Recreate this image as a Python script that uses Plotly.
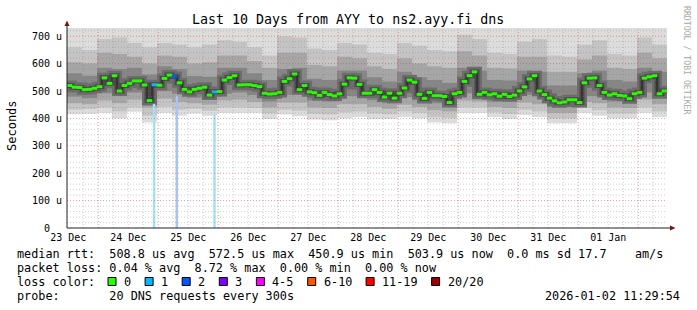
import plotly.graph_objects as go
from datetime import datetime, timedelta

# ---------------- data ----------------
chart_title = "Last 10 Days from AYY to ns2.ayy.fi dns"
t_start = datetime(2025, 12, 23, 11, 29, 54)
t_end = datetime(2026, 1, 2, 11, 29, 54)

day_labels = ["23 Dec", "24 Dec", "25 Dec", "26 Dec", "27 Dec",
              "28 Dec", "29 Dec", "30 Dec", "31 Dec", "01 Jan"]
day_label_times = [datetime(2025, 12, 23, 12, 0) + timedelta(days=k) for k in range(10)]

y_tick_vals = [0, 100, 200, 300, 400, 500, 600, 700]
y_tick_text = ["0  ", "100 u", "200 u", "300 u", "400 u", "500 u", "600 u", "700 u"]

# median rtt (microseconds), 2-hour steps
median_start = datetime(2025, 12, 23, 11, 30)
median_step_h = 2
median_us = [520, 514, 513, 505, 506, 510, 516, 548, 528, 556,
             500, 520, 528, 537, 537, 522, 465, 523, 521, 546,
             558, 553, 530, 506, 497, 506, 510, 514, 485, 497,
             498, 540, 549, 556, 522, 523, 523, 520, 516, 492,
             489, 490, 495, 535, 545, 562, 505, 520, 497, 494,
             484, 495, 487, 482, 490, 525, 548, 547, 524, 492,
             492, 505, 495, 478, 492, 474, 492, 511, 540, 532,
             488, 473, 495, 483, 483, 480, 458, 490, 495, 535,
             556, 570, 488, 495, 486, 490, 481, 488, 480, 485,
             500, 515, 544, 556, 500, 487, 474, 464, 457, 460,
             468, 468, 458, 530, 547, 548, 520, 495, 485, 490,
             484, 482, 472, 490, 495, 547, 552, 556, 490, 500]
# lost pings (of 20) per median step, where not zero
median_loss = {17: 1, 21: 2, 29: 1}

# smoke (ping distribution), 6-hour steps
smoke_step_h = 6
smoke_lo1 = [415, 416, 420, 400, 424, 385, 420, 410, 418, 410, 420, 420, 420, 398, 414, 408, 396, 393, 400, 405,
             398, 398, 405, 400, 385, 382, 420, 420, 405, 398, 412, 405, 382, 382, 420, 410, 400, 400, 420, 405]
smoke_lo2 = [432, 434, 440, 425, 440, 410, 442, 432, 435, 428, 440, 440, 438, 418, 432, 428, 416, 414, 422, 425,
             418, 415, 425, 420, 405, 402, 440, 440, 422, 416, 432, 425, 400, 400, 438, 430, 418, 418, 440, 425]
smoke_lo3 = [455, 452, 465, 455, 468, 440, 472, 460, 455, 450, 465, 468, 460, 440, 458, 458, 440, 438, 452, 452,
             442, 435, 450, 442, 430, 425, 465, 462, 442, 438, 458, 452, 420, 420, 460, 455, 440, 438, 468, 452]
smoke_lo4 = [480, 474, 492, 485, 495, 470, 500, 490, 475, 472, 490, 495, 485, 462, 485, 488, 465, 462, 482, 482,
             466, 455, 478, 466, 455, 448, 492, 485, 462, 460, 485, 480, 442, 442, 482, 482, 462, 458, 495, 480]
smoke_hi4 = [565, 556, 585, 580, 585, 560, 590, 580, 555, 552, 585, 585, 565, 540, 580, 585, 545, 540, 575, 575,
             550, 535, 570, 550, 540, 530, 585, 575, 540, 538, 575, 570, 520, 520, 565, 575, 540, 535, 585, 570]
smoke_hi3 = [605, 600, 640, 635, 625, 600, 630, 625, 600, 605, 630, 630, 610, 585, 640, 640, 595, 590, 625, 620,
             590, 580, 620, 600, 590, 585, 645, 630, 585, 582, 625, 625, 570, 570, 615, 630, 585, 580, 640, 620]
smoke_hi2 = [660, 650, 690, 695, 675, 660, 675, 670, 660, 670, 685, 680, 660, 630, 700, 695, 655, 650, 675, 670,
             640, 635, 675, 665, 650, 645, 705, 690, 640, 635, 680, 690, 630, 625, 670, 685, 635, 630, 695, 670]
smoke_hi1 = [740, 740, 740, 740, 740, 740, 740, 740, 740, 740, 740, 740, 740, 740, 740, 740, 740, 740, 740, 740,
             740, 740, 740, 740, 740, 740, 740, 740, 740, 740, 740, 740, 740, 740, 740, 740, 740, 740, 740, 740]

# packet loss events (bars)
loss_event_times = [datetime(2025, 12, 24, 22, 20), datetime(2025, 12, 25, 7, 25), datetime(2025, 12, 25, 22, 30)]
loss_event_count = [1, 2, 1]
loss_event_top = [453, 482, 416]

loss_legend = ["0", "1", "2", "3", "4-5", "6-10", "11-19", "20/20"]
loss_colors = ["#26ff00", "#00b8ff", "#0059ff", "#7e00ff", "#ff00ff", "#ff5500", "#ff0000", "#a10000"]
loss_bar_colors = {1: "#a6e2f6", 2: "#a9c2f8"}

stats_line1 = "median rtt:  508.8 us avg  572.5 us max  450.9 us min  503.9 us now  0.0 ms sd 17.7    am/s"
stats_line2 = "packet loss: 0.04 % avg  8.72 % max  0.00 % min  0.00 % now"
probe_line = "probe:       20 DNS requests every 300s"
stamp = "2026-01-02 11:29:54"

# ---------------- layout helpers ----------------
W, H = 697, 310
L, R, T, B = 67, 30, 28, 82
PW, PH = W - L - R, H - T - B
MONO = "DejaVu Sans Mono"


def px(xp):
    return (xp - L) / PW


def py(yp):
    return (H - B - yp) / PH


def nb(s):
    return s.replace(" ", "\u00a0")


def steps(start, hours, vals):
    xs = [start + timedelta(hours=hours * i) for i in range(len(vals) + 1)]
    return xs, list(vals) + [vals[-1]]


fig = go.Figure()

# smoke layers
layers = [(smoke_lo1, smoke_hi1, "#dcdcdc"),
          (smoke_lo2, smoke_hi2, "#c4c4c4"),
          (smoke_lo3, smoke_hi3, "#a6a6a6"),
          (smoke_lo4, smoke_hi4, "#868686")]
for lo, hi, col in layers:
    xs, ylo = steps(median_start, smoke_step_h, lo)
    _, yhi = steps(median_start, smoke_step_h, hi)
    fig.add_trace(go.Scatter(x=xs, y=ylo, mode="lines", line=dict(width=0, shape="hv"),
                             hoverinfo="skip", showlegend=False))
    fig.add_trace(go.Scatter(x=xs, y=yhi, mode="lines", line=dict(width=0, shape="hv"),
                             fill="tonexty", fillcolor=col, hoverinfo="skip", showlegend=False))

# dark core of the smoke around the median
mx, my = steps(median_start, median_step_h, median_us)
fig.add_trace(go.Scatter(x=mx, y=my, mode="lines", line=dict(width=10, shape="hv", color="#6c6c6c"),
                         hoverinfo="skip", showlegend=False))
fig.add_trace(go.Scatter(x=mx, y=my, mode="lines", line=dict(width=5, shape="hv", color="#4a4a4a"),
                         hoverinfo="skip", showlegend=False))

# loss bars
half = timedelta(minutes=30)
for t, n, top in zip(loss_event_times, loss_event_count, loss_event_top):
    fig.add_trace(go.Scatter(x=[t - half, t - half, t + half, t + half], y=[0, top, top, 0],
                             mode="lines", line=dict(width=0), fill="toself",
                             fillcolor=loss_bar_colors[n], hoverinfo="skip", showlegend=False))

# median line
fig.add_trace(go.Scatter(x=mx, y=my, mode="lines", line=dict(width=1, shape="hv", color="#202020"),
                         hoverinfo="skip", showlegend=False))
mid_x = [median_start + timedelta(hours=median_step_h * i + median_step_h / 2) for i in range(len(median_us))]
mcol = [loss_colors[median_loss.get(i, 0)] for i in range(len(median_us))]
fig.add_trace(go.Scatter(x=mid_x, y=median_us, mode="markers",
                         marker=dict(symbol="line-ew", size=4, line=dict(width=3, color=mcol)),
                         hoverinfo="skip", showlegend=False))

# ---------------- grid (drawn above the smoke, as rrdtool does) ----------------
shapes = []
minor_grey = "rgba(120,120,120,0.35)"
major_pink = "rgba(215,60,60,0.5)"
t = datetime(2025, 12, 23, 18, 0)
while t < t_end:
    major = (t.hour == 0)
    shapes.append(dict(type="line", xref="x", yref="y domain", x0=t, x1=t, y0=0, y1=1, layer="above",
                       line=dict(color=major_pink if major else minor_grey, width=1, dash="1px,2px")))
    t += timedelta(hours=6)
for v in range(20, 730, 20):
    major = (v % 100 == 0)
    shapes.append(dict(type="line", xref="x domain", yref="y", x0=0, x1=1, y0=v, y1=v, layer="above",
                       line=dict(color=major_pink if major else minor_grey, width=1, dash="1px,2px")))

# axes with arrows
axis_col = "#202020"
arrow_col = "#7f1010"
shapes.append(dict(type="line", xref="paper", yref="paper", x0=px(67), x1=px(67), y0=py(228), y1=py(23),
                   line=dict(color=axis_col, width=1), layer="above"))
shapes.append(dict(type="line", xref="paper", yref="paper", x0=px(67), x1=px(671), y0=py(228), y1=py(228),
                   line=dict(color=axis_col, width=1), layer="above"))
shapes.append(dict(type="path", xref="paper", yref="paper",
                   path=f"M {px(64.5)} {py(26)} L {px(69.5)} {py(26)} L {px(67)} {py(20.5)} Z",
                   fillcolor=arrow_col, line=dict(width=0), layer="above"))
shapes.append(dict(type="path", xref="paper", yref="paper",
                   path=f"M {px(670)} {py(225.5)} L {px(670)} {py(230.5)} L {px(675.5)} {py(228)} Z",
                   fillcolor=arrow_col, line=dict(width=0), layer="above"))

# ---------------- texts ----------------
ann = []


def text(x, y, s, size=11.8, anchor="left", color="black", angle=0):
    ann.append(dict(xref="paper", yref="paper", x=px(x), y=py(y), text=nb(s), showarrow=False,
                    xanchor=anchor, yanchor="middle", textangle=angle, borderpad=0,
                    font=dict(family=MONO, size=size, color=color)))


text(348, 19, chart_title, size=13.3, anchor="center")
text(12, 126, "Seconds", size=12, anchor="center", angle=-90)
text(687, 60, "RRDTOOL / TOBI OETIKER", size=8.2, anchor="center", color="#a8a8a8", angle=90)
text(16, 254, stats_line1)
text(16, 268, stats_line2)
text(16, 282, "loss color:")
text(16, 296, probe_line)
text(681, 296, stamp, anchor="right")

bx = 108
for lab, col in zip(loss_legend, loss_colors):
    shapes.append(dict(type="rect", xref="paper", yref="paper", x0=px(bx), x1=px(bx + 8),
                       y0=py(277.5), y1=py(285.5), fillcolor=col, line=dict(color="black", width=1)))
    text(bx + 15, 282, lab)
    bx = bx + 15 + len(lab) * 7.1 + 15

fig.update_layout(
    width=W, height=H, autosize=False,
    margin=dict(l=L, r=R, t=T, b=B, pad=0),
    paper_bgcolor="white", plot_bgcolor="white",
    showlegend=False, shapes=shapes, annotations=ann,
    xaxis=dict(type="date", range=[t_start, t_end], showgrid=False, zeroline=False, showline=False,
               ticks="", tickmode="array", tickvals=day_label_times, ticktext=day_labels,
               tickfont=dict(family=MONO, size=10, color="black"), ticklabelstandoff=2,
               fixedrange=True),
    yaxis=dict(range=[0, 730], showgrid=False, zeroline=False, showline=False, ticks="",
               tickmode="array", tickvals=y_tick_vals, ticktext=[nb(s) for s in y_tick_text],
               tickfont=dict(family=MONO, size=10, color="black"), ticklabelstandoff=4,
               fixedrange=True),
)

fig.write_html("out.html")
